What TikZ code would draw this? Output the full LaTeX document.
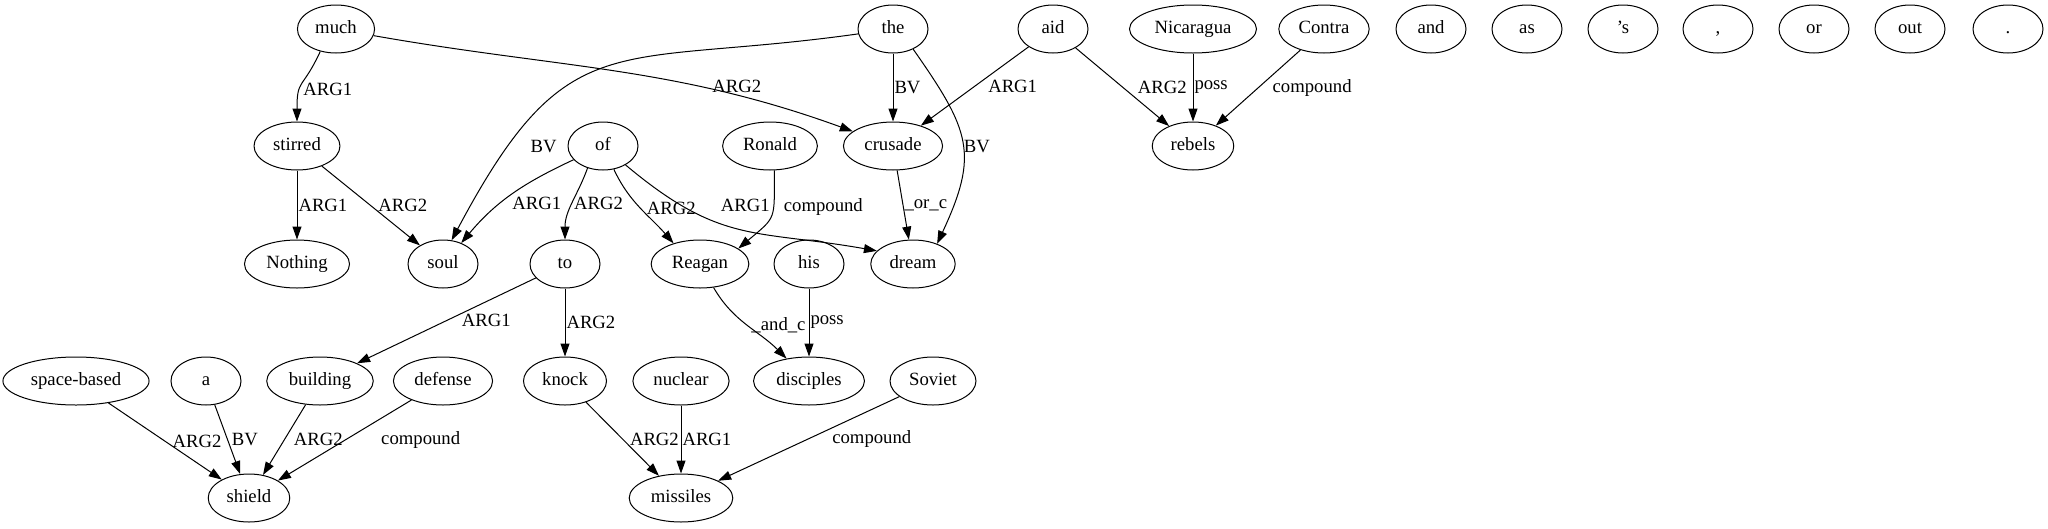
\documentclass[tikz,border=0pt]{standalone}
\usepackage{fontspec}
\setmainfont{Liberation Serif}
\usetikzlibrary{arrows.meta, shapes.geometric}

\begin{document}
\begin{tikzpicture}[
      x=1pt, y=1pt,
      word/.style={ellipse, draw, line width=1pt,
                   minimum width=70pt, minimum height=48pt,
                   inner xsep=6.5pt, inner ysep=2pt,
                   text height=13pt, text depth=4pt,
                   font=\fontsize{18.7}{22}\selectfont},
      lbl/.style={anchor=west, inner sep=1pt, font=\fontsize{18.7}{22}\selectfont},
      arrow/.style={-{Triangle[length=13pt, width=9pt]}, line width=1pt},
    ]
    \useasboundingbox (0,0) rectangle (2048,-528);

    \node[word] (much) at (336,-29) {much};
    \node[word] (the) at (893,-29) {the};
    \node[word] (aid) at (1053,-29) {aid};
    \node[word] (nicaragua) at (1193,-29) {Nicaragua};
    \node[word] (contra) at (1324,-29) {Contra};
    \node[word] (andw) at (1431,-29) {and};
    \node[word] (asw) at (1527,-29) {as};
    \node[word] (apos) at (1623,-29) {’s};
    \node[word] (comma) at (1718,-29) {,};
    \node[word] (orw) at (1814,-29) {or};
    \node[word] (outw) at (1910,-29) {out};
    \node[word] (dot) at (2008,-29) {.};

    \node[word] (stirred) at (297,-146) {stirred};
    \node[word] (ofw) at (603,-146) {of};
    \node[word] (ronald) at (770,-146) {Ronald};
    \node[word] (crusade) at (893,-146) {crusade};
    \node[word] (rebels) at (1193,-146) {rebels};

    \node[word] (nothing) at (297,-264) {Nothing};
    \node[word] (soul) at (443,-264) {soul};
    \node[word] (tow) at (565,-264) {to};
    \node[word] (reagan) at (700,-264) {Reagan};
    \node[word] (his) at (809,-264) {his};
    \node[word] (dream) at (913,-264) {dream};

    \node[word] (spacebased) at (76,-381) {space-based};
    \node[word] (aw) at (206,-381) {a};
    \node[word] (building) at (320,-381) {building};
    \node[word] (defense) at (443,-381) {defense};
    \node[word] (knock) at (565,-381) {knock};
    \node[word] (nuclear) at (681,-381) {nuclear};
    \node[word] (disciples) at (809,-381) {disciples};
    \node[word] (soviet) at (933,-381) {Soviet};

    \node[word] (shield) at (249,-498) {shield};
    \node[word] (missiles) at (681,-498) {missiles};

    \draw[arrow] (much.-125) to[out=-115, in=90, looseness=1.5] node[lbl, yshift=-4] {ARG1} (stirred);
    \draw[arrow] (much) to[out=-10, in=160] node[lbl, pos=.7, anchor=south west, xshift=5, yshift=-6] {ARG2} (crusade);
    \draw[arrow] (the) to[out=188, in=62, looseness=1.4] node[lbl, pos=.79, xshift=11, yshift=-13] {BV} (soul.70);
    \draw[arrow] (the) -- node[lbl] {BV} (crusade);
    \draw[arrow] (the.-45) to[out=-55, in=65, looseness=1.3] node[lbl, yshift=-3] {BV} (dream.40);
    \draw[arrow] (aid) -- node[lbl, xshift=12] {ARG1} (crusade);
    \draw[arrow] (aid) -- node[lbl, xshift=14] {ARG2} (rebels);
    \draw[arrow] (nicaragua) -- node[lbl] {poss} (rebels);
    \draw[arrow] (contra) -- node[lbl, xshift=13] {compound} (rebels);
    \draw[arrow] (stirred) -- node[lbl] {ARG1} (nothing);
    \draw[arrow] (stirred) -- node[lbl, xshift=6] {ARG2} (soul);
    \draw[arrow] (ofw) to[out=-155, in=50] node[lbl, pos=.55, xshift=4, yshift=-5] {ARG1} (soul.49);
    \draw[arrow] (ofw.-125) to[out=-110, in=90] node[lbl] {ARG2} (tow);
    \draw[arrow] (ofw) to[out=-65, in=131] node[lbl, xshift=5] {ARG2} (reagan.142);
    \draw[arrow] (ofw) to[out=-40, in=170, looseness=1.2] node[lbl, pos=.35, xshift=10, yshift=14] {ARG1} (dream.160);
    \draw[arrow] (ronald.-80) to[out=-90, in=40, looseness=1.5] node[lbl, pos=.35, xshift=9] {compound} (reagan.22);
    \draw[arrow] (crusade) -- node[lbl] {\_or\_c} (dream);
    \draw[arrow] (tow) -- node[lbl, xshift=14] {ARG1} (building);
    \draw[arrow] (tow) -- node[lbl] {ARG2} (knock);
    \draw[arrow] (reagan) to[out=-60, in=135] node[lbl, xshift=3] {\_and\_c} (disciples);
    \draw[arrow] (his) -- node[lbl] {poss} (disciples);
    \draw[arrow] (spacebased) -- node[lbl, xshift=6] {ARG2} (shield);
    \draw[arrow] (aw) -- node[lbl, xshift=3] {BV} (shield);
    \draw[arrow] (building) -- node[lbl, xshift=8] {ARG2} (shield);
    \draw[arrow] (defense) -- node[lbl, xshift=35] {compound} (shield);
    \draw[arrow] (knock) -- node[lbl, xshift=6] {ARG2} (missiles);
    \draw[arrow] (nuclear) -- node[lbl] {ARG1} (missiles);
    \draw[arrow] (soviet) -- node[lbl, xshift=22] {compound} (missiles);
  \end{tikzpicture}
\end{document}
